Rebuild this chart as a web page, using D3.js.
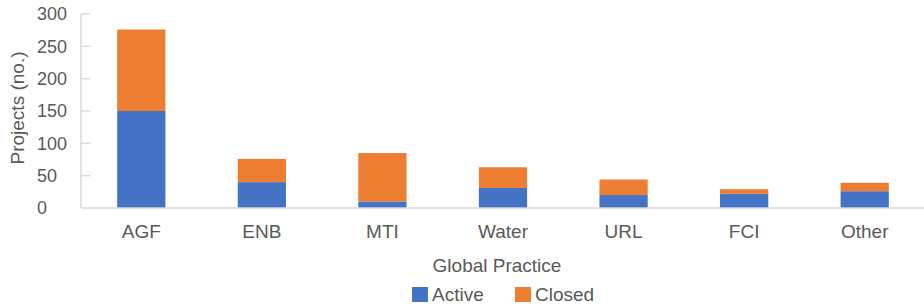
<!DOCTYPE html>
<html>
<head>
<meta charset="utf-8">
<script src="https://cdn.jsdelivr.net/npm/d3@7"></script>
<style>
body { margin: 0; background: #fff; }
text { font-family: "Liberation Sans", Arial, sans-serif; fill: #595959; }
</style>
</head>
<body>
<script>
"use strict";

var categories = ["AGF", "ENB", "MTI", "Water", "URL", "FCI", "Other"];
var activeValues = [150, 40, 10, 31, 20, 22, 26];
var closedValues = [126, 36, 75, 32, 24, 7, 13];
var yTicks = [0, 50, 100, 150, 200, 250, 300];
var seriesNames = ["Active", "Closed"];
var seriesColors = ["#4472C4", "#ED7D31"];

var widthEcran = 924, heightEcran = 308;
var plotLeft = 81, plotRight = 925, plotTop = 14, plotBottom = 208;

var canvas = d3.select("body")
    .append("svg")
    .attr("width", widthEcran)
    .attr("height", heightEcran);

var x = d3.scaleBand()
    .domain(categories)
    .range([plotLeft, plotRight])
    .paddingInner(0.6)
    .paddingOuter(0.3);

var y = d3.scaleLinear()
    .domain([0, 300])
    .range([plotBottom, plotTop]);

var rows = categories.map(function (c, i) {
    return { cat: c, Active: activeValues[i], Closed: closedValues[i] };
});
var stacked = d3.stack().keys(seriesNames)(rows);

// y axis line and inner ticks
canvas.append("line")
    .attr("x1", plotLeft).attr("x2", plotLeft)
    .attr("y1", y(300)).attr("y2", y(0))
    .attr("stroke", "#d9d9d9").attr("stroke-width", 1.5);

canvas.selectAll(".ytick")
    .data(yTicks.filter(function (t) { return t > 0; }))
    .enter().append("line")
    .attr("x1", plotLeft).attr("x2", plotLeft + 9)
    .attr("y1", function (d) { return y(d); })
    .attr("y2", function (d) { return y(d); })
    .attr("stroke", "#d9d9d9").attr("stroke-width", 1.5);

canvas.selectAll(".ylabel")
    .data(yTicks)
    .enter().append("text")
    .attr("x", 37)
    .attr("y", function (d) { return y(d); })
    .attr("dy", "0.35em")
    .attr("font-size", "18px")
    .text(function (d) { return d; });

// bars
canvas.selectAll(".serie")
    .data(stacked)
    .enter().append("g")
    .attr("fill", function (d, i) { return seriesColors[i]; })
    .selectAll("rect")
    .data(function (d) { return d; })
    .enter().append("rect")
    .attr("x", function (d) { return x(d.data.cat); })
    .attr("y", function (d) { return y(d[1]); })
    .attr("width", x.bandwidth())
    .attr("height", function (d) { return y(d[0]) - y(d[1]); });

// baseline
canvas.append("line")
    .attr("x1", plotLeft).attr("x2", plotRight)
    .attr("y1", y(0)).attr("y2", y(0))
    .attr("stroke", "#d9d9d9").attr("stroke-width", 1.5);

// category labels
canvas.selectAll(".xlabel")
    .data(categories)
    .enter().append("text")
    .attr("x", function (d) { return x(d) + x.bandwidth() / 2; })
    .attr("y", 238)
    .attr("text-anchor", "middle")
    .attr("font-size", "19px")
    .text(function (d) { return d; });

// axis titles
canvas.append("text")
    .attr("x", 497).attr("y", 272)
    .attr("text-anchor", "middle")
    .attr("font-size", "19px")
    .text("Global Practice");

canvas.append("text")
    .attr("transform", "translate(24,108) rotate(-90)")
    .attr("text-anchor", "middle")
    .attr("font-size", "19px")
    .text("Projects (no.)");

// legend
var legendX = [412, 515];
var legend = canvas.selectAll(".legend")
    .data(seriesNames)
    .enter().append("g")
    .attr("transform", function (d, i) { return "translate(" + legendX[i] + ",287)"; });
legend.append("rect")
    .attr("width", 16).attr("height", 15)
    .attr("fill", function (d, i) { return seriesColors[i]; });
legend.append("text")
    .attr("x", 20).attr("y", 14)
    .attr("font-size", "19px")
    .text(function (d) { return d; });
</script>
</body>
</html>
